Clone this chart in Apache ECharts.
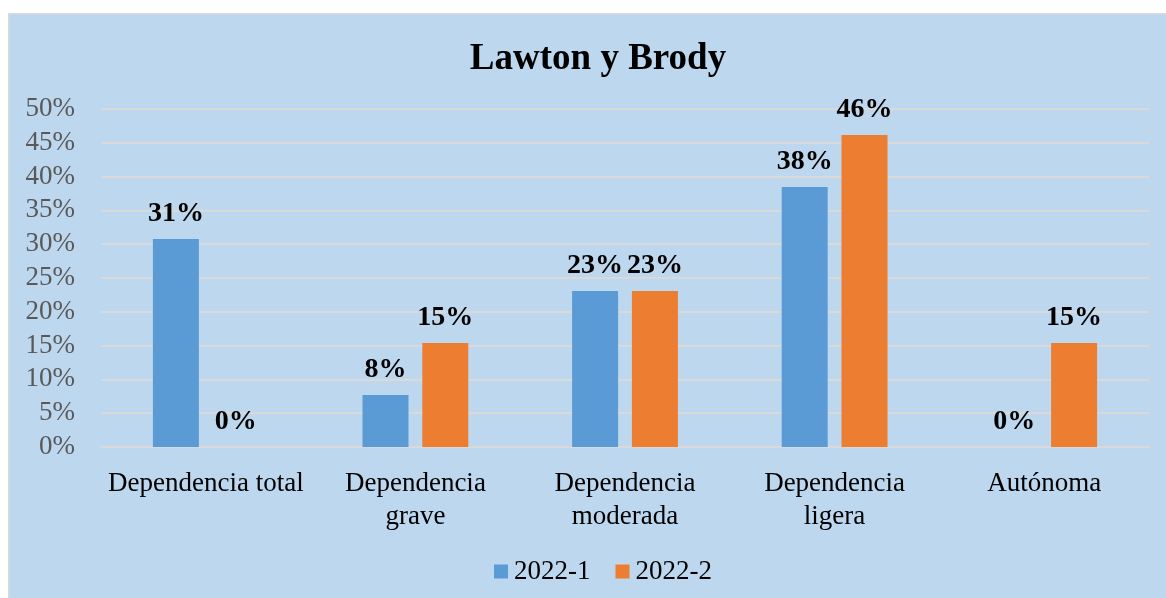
<!DOCTYPE html>
<html lang="es" style="height: 100%">
  <head>
    <meta charset="utf-8" />
  </head>
  <body style="height: 100%; margin: 0; overflow: hidden; background: #fff">
    <div id="container" style="height: 100%"></div>
    <script type="text/javascript" src="https://cdn.jsdelivr.net/npm/echarts@6/dist/echarts.min.js"></script>
    <script type="text/javascript">
      const categories = [
        'Dependencia total',
        'Dependencia\ngrave',
        'Dependencia\nmoderada',
        'Dependencia\nligera',
        'Autónoma',
      ]
      const seriesNames = ['2022-1', '2022-2']
      const values2022a = [30.77, 7.69, 23.08, 38.46, 0]
      const values2022b = [0, 15.38, 23.08, 46.15, 15.38]

      const serif = '"Liberation Serif", "DejaVu Serif", serif'
      const dom = document.getElementById('container')
      const myChart = echarts.init(dom, null, { renderer: 'canvas' })

      const labelStyle = {
        show: true,
        position: 'top',
        distance: 11,
        fontFamily: serif,
        fontSize: 28,
        fontWeight: 'bold',
        color: '#000',
        formatter: (p) => Math.round(p.value) + '%',
      }

      const option = {
        animation: false,
        graphic: [
          {
            type: 'rect',
            left: 8,
            top: 13,
            z: -10,
            shape: { width: 1170, height: 600 },
            style: { fill: '#BDD7EE', stroke: '#D9D9D9', lineWidth: 1.5 },
          },
        ],
        title: {
          text: 'Lawton y Brody',
          left: 593,
          textAlign: 'center',
          top: 36,
          textStyle: {
            fontFamily: serif,
            fontSize: 37,
            fontWeight: 'bold',
            color: '#000',
          },
        },
        legend: {
          top: 553,
          left: 489,
          itemWidth: 14,
          itemHeight: 14,
          itemGap: 25,
          itemStyle: { borderWidth: 0 },
          icon: 'rect',
          textStyle: { fontFamily: serif, fontSize: 27, color: '#000', padding: [0, 0, 0, 1] },
          data: seriesNames,
        },
        grid: { left: 101, right: 17, top: 109, bottom: 151 },
        xAxis: {
          type: 'category',
          data: categories,
          axisLine: { show: true, lineStyle: { color: '#D9D9D9', width: 2 } },
          axisTick: { show: false },
          axisLabel: {
            margin: 20,
            fontFamily: serif,
            fontSize: 27,
            color: '#000',
            lineHeight: 33,
            interval: 0,
          },
        },
        yAxis: {
          type: 'value',
          min: 0,
          max: 50,
          interval: 5,
          axisLine: { show: false },
          axisTick: { show: false },
          splitLine: { lineStyle: { color: '#D9D9D9', width: 2 } },
          axisLabel: {
            margin: 26,
            fontFamily: serif,
            fontSize: 27,
            color: '#595959',
            formatter: '{value}%',
          },
        },
        series: [
          {
            name: seriesNames[0],
            type: 'bar',
            data: values2022a,
            barWidth: 46,
            barGap: '30%',
            itemStyle: { color: '#5B9BD5' },
            label: labelStyle,
          },
          {
            name: seriesNames[1],
            type: 'bar',
            data: values2022b,
            barWidth: 46,
            itemStyle: { color: '#ED7D31' },
            label: labelStyle,
          },
        ],
      }

      myChart.setOption(option)
      window.addEventListener('resize', myChart.resize)
    </script>
  </body>
</html>
